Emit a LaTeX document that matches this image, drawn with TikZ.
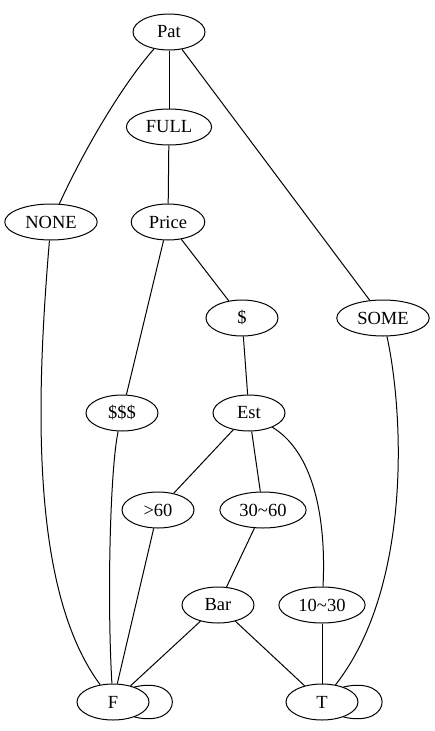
\documentclass[tikz,border=0pt]{standalone}
\usepackage{fontspec}
\setmainfont{Liberation Serif}
\usetikzlibrary{shapes.geometric}
\begin{document}
\begin{tikzpicture}[x=1pt, y=-1pt, line width=1pt]
  % Define node and edge styles
  \tikzstyle{treenode} = [draw, ellipse, minimum width=72pt, minimum height=36pt,
  inner xsep=7pt, inner ysep=2pt, font=\fontsize{18.5}{22}\selectfont]
  \tikzstyle{treeedge} = [draw, line width=1pt]

  \useasboundingbox (0,0) rectangle (434,731);

  % Nodes, row by row
  \node [treenode] (pat) at (169,32) {Pat};
  \node [treenode] (full) at (169,127) {FULL};
  \node [treenode] (none) at (51,222) {NONE};
  \node [treenode] (price) at (168,222) {Price};
  \node [treenode] (dollar) at (242,318) {\$};
  \node [treenode] (some) at (383,318) {SOME};
  \node [treenode] (dollars) at (122,413) {\$\$\$};
  \node [treenode] (est) at (249,413) {Est};
  \node [treenode] (over) at (158,510) {>60};
  \node [treenode] (mid) at (263,510) {30\textasciitilde60};
  \node [treenode] (bar) at (218,605) {Bar};
  \node [treenode] (low) at (322,605) {10\textasciitilde30};
  \node [treenode] (f) at (113,702) {F};
  \node [treenode] (t) at (322,702) {T};

  % Edges
  \path [treeedge] (pat) .. controls (122,85) and (84,150) .. (none);
  \path [treeedge] (pat) -- (full);
  \path [treeedge] (pat) -- (some);
  \path [treeedge] (full) -- (price);
  \path [treeedge] (price) -- (dollars);
  \path [treeedge] (price) -- (dollar);
  \path [treeedge] (dollar) -- (est);
  \path [treeedge] (none) .. controls (36,400) and (30,590) .. (f);
  \path [treeedge] (dollars) .. controls (110,470) and (107,600) .. (f);
  \path [treeedge] (some) .. controls (405,420) and (410,590) .. (t);
  \path [treeedge] (est) -- (over);
  \path [treeedge] (est) -- (mid);
  \path [treeedge] (est) .. controls (318,455) and (326,530) .. (low);
  \path [treeedge] (over) -- (f);
  \path [treeedge] (mid) -- (bar);
  \path [treeedge] (bar) -- (f);
  \path [treeedge] (bar) -- (t);
  \path [treeedge] (low) -- (t);

  % Self loops
  \path [treeedge] (f.35) .. controls (185,675) and (185,729) .. (f.-35);
  \path [treeedge] (t.35) .. controls (395,675) and (395,729) .. (t.-35);
\end{tikzpicture}
\end{document}
